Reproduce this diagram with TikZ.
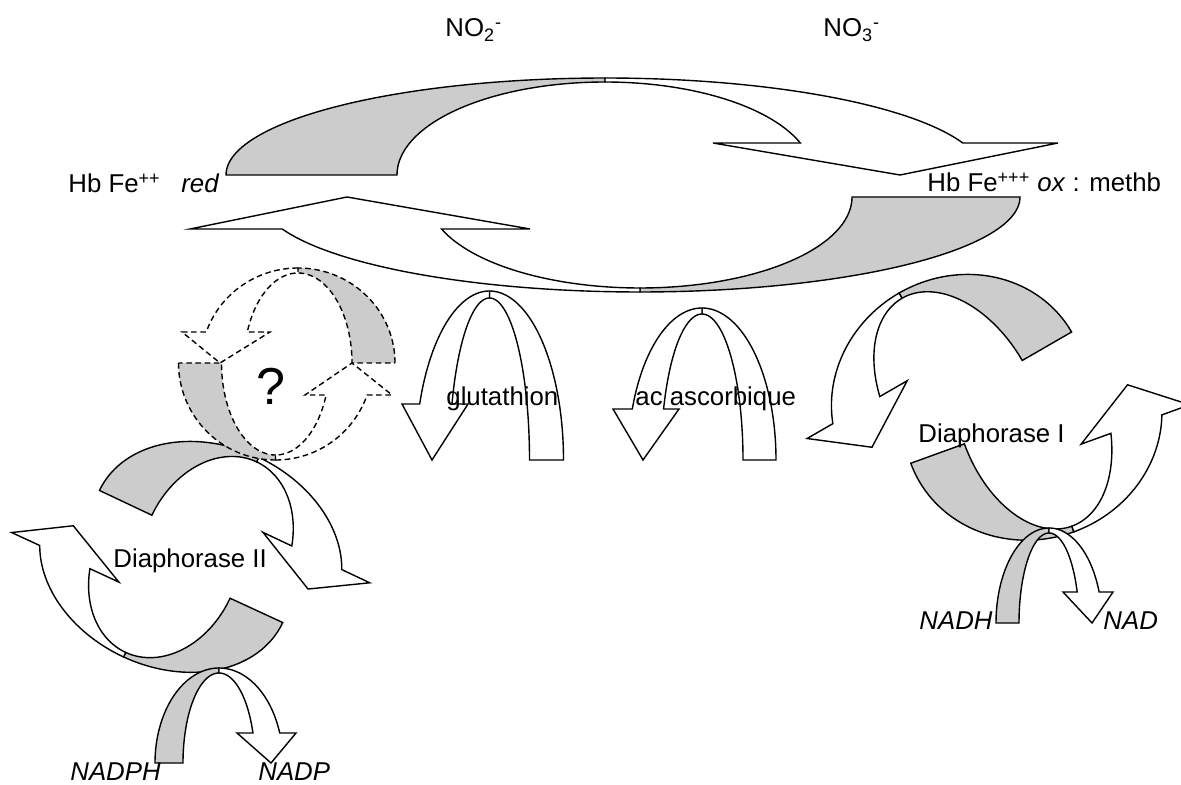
\documentclass[tikz,border=0pt]{standalone}
\usepackage{fontspec}
\setmainfont{Liberation Sans}
\usepackage{tikz}
\definecolor{backgray}{HTML}{CCCCCC}
\tikzset{
  frontface/.style={fill=white,draw=black,line width=.7pt},
  backface/.style={fill=backgray,draw=black,line width=.7pt},
  unitframe/.style={x=.5pt,y=.5pt},
  dashface/.style={dash pattern=on 2.8pt off 1.8pt},
  chem/.style={inner sep=0pt,anchor=base west,font=\fontsize{12.9}{15}\selectfont}
}
% curved block arrow: back band on the left, front band with head on the right
% #1 back style, #2/#3 outer radii, #4/#5 inner radii, #6 head level, #7 inner barb, #8 outer barb, #9 tip
\newcommand{\cycarrow}[9]{%
  \pgfmathsetmacro{\angout}{asin(#6/#3)}%
  \pgfmathsetmacro{\angin}{asin(#6/#5)}%
  \filldraw[#1] plot[domain=180:90] ({#2*cos(\x)},{#3*sin(\x)})
    -- plot[domain=90:180] ({#4*cos(\x)},{#5*sin(\x)}) -- cycle;
  \filldraw[frontface] plot[domain=90:\angout] ({#2*cos(\x)},{#3*sin(\x)})
    -- (#8,#6) -- (#9,0) -- (#7,#6)
    -- plot[domain=\angin:90] ({#4*cos(\x)},{#5*sin(\x)}) -- cycle;
}

\begin{document}
\begin{tikzpicture}[x=.5pt,y=-.5pt,samples=60]
  \useasboundingbox (0,0) rectangle (1181,785);
  % Hb red <-> ox loop
  \begin{scope}[shift={(605,175)},unitframe]
    \cycarrow{backface}{379}{97}{208}{93}{32}{108}{453}{295}
  \end{scope}
  \begin{scope}[shift={(640,197)},unitframe,rotate=180]
    \cycarrow{backface}{380}{95}{212}{91}{32}{110}{450}{293}
  \end{scope}
  % glutathion, ac ascorbique
  \begin{scope}[shift={(489.5,460)},unitframe,xscale=-1]
    \cycarrow{frontface}{74}{169}{40}{162}{56}{21.5}{87.5}{57.5}
  \end{scope}
  \begin{scope}[shift={(702,460)},unitframe,xscale=-1]
    \cycarrow{frontface}{74}{152}{41}{146}{51}{23}{89}{59}
  \end{scope}
  % Diaphorase I
  \begin{scope}[shift={(959,397)},unitframe,rotate=30,xscale=-1]
    \cycarrow{backface}{130}{120}{73}{114}{40}{36.7}{152.3}{100.5}
  \end{scope}
  \begin{scope}[shift={(1033,419)},unitframe,rotate=199.9,xscale=-1]
    \cycarrow{backface}{130}{120}{73}{114}{40}{36.7}{152.3}{100.5}
  \end{scope}
  \begin{scope}[shift={(1049,623)},unitframe]
    \cycarrow{backface}{53}{95}{30}{90}{31}{14}{64}{43}
  \end{scope}
  % Diaphorase II
  \begin{scope}[shift={(217,546)},unitframe,rotate=-25.3]
    \cycarrow{backface}{130}{98}{72}{93}{32}{35.7}{153.8}{100.7}
  \end{scope}
  \begin{scope}[shift={(164.7,568)},unitframe,rotate=155.2]
    \cycarrow{backface}{130}{98}{72}{93}{32}{35.7}{153.8}{100.7}
  \end{scope}
  \begin{scope}[shift={(219,763)},unitframe]
    \cycarrow{backface}{64}{95}{36}{90}{30}{18}{77}{52}
  \end{scope}
  % unknown pathway
  \begin{scope}[shift={(298,363)},unitframe,xscale=-1,dashface]
    \cycarrow{backface}{97}{95}{54}{90}{31}{28}{116}{78}
  \end{scope}
  \begin{scope}[shift={(275.5,363)},unitframe,yscale=-1,dashface]
    \cycarrow{backface}{97}{97}{54}{92}{32}{29.5}{116.5}{76.5}
  \end{scope}
  % labels
  \node[chem] (no2) at (445,37) {NO\textsubscript{2}\textsuperscript{-}};
  \node[chem] (no3) at (823,37) {NO\textsubscript{3}\textsuperscript{-}};
  \node[chem] (hbred) at (68,193) {Hb Fe\textsuperscript{++}\hspace{.8em}\textit{red}};
  \node[chem] (hbox) at (927,192) {Hb Fe\textsuperscript{+++} \textit{ox} : methb};
  \node[chem] (glut) at (446,406) {glutathion};
  \node[chem] (asc) at (635,406) {ac ascorbique};
  \node[chem] (diaI) at (918,443) {Diaphorase I};
  \node[chem] (nadh) at (919,629) {\textit{NADH}};
  \node[chem] (nad) at (1103,629) {\textit{NAD}};
  \node[chem] (diaII) at (113,567) {Diaphorase II};
  \node[chem] (nadph) at (70,780) {\textit{NADPH}};
  \node[chem] (nadp) at (258,780) {\textit{NADP}};
  \node[inner sep=0pt,font=\fontsize{26}{30}\selectfont] (unk) at (271,386) {?};
\end{tikzpicture}
\end{document}
